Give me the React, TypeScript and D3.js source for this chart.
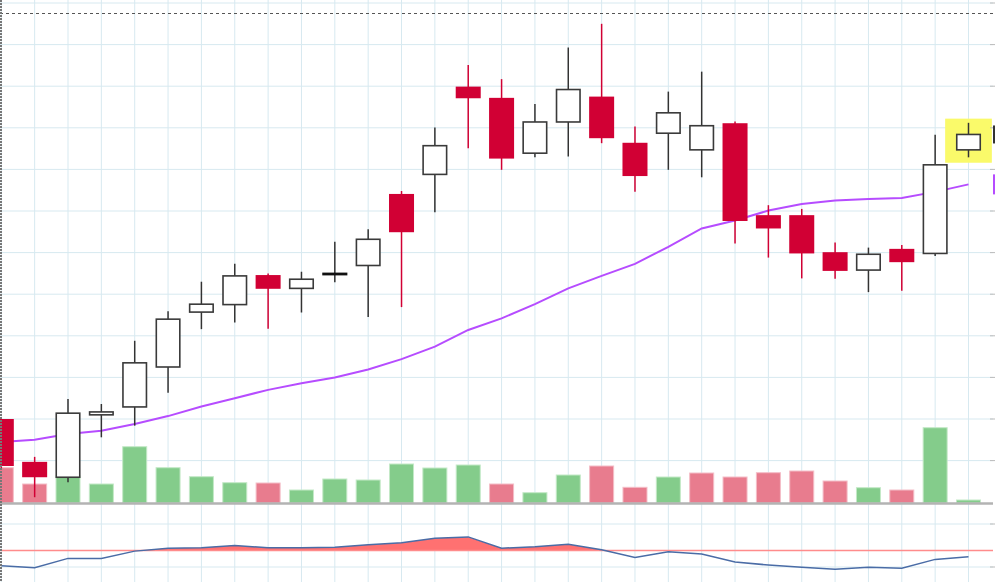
import React, { useEffect, useRef } from 'react';
import * as d3 from 'd3';

// daily candles
const opens = [22.0, 20.97, 20.6, 22.1, 22.29, 23.25, 24.57, 24.75, 25.46, 25.14, 25.5, 25.69, 27.41, 27.88, 29.99, 29.72, 28.39, 29.14, 29.75, 28.64, 28.87, 28.47, 29.11, 26.9, 26.9, 26.01, 25.58, 26.09, 25.98, 28.47];
const highs = [22.0, 21.09, 22.48, 22.36, 23.88, 24.59, 25.3, 25.73, 25.5, 25.54, 26.26, 26.56, 27.48, 29.01, 30.51, 30.17, 29.57, 30.93, 31.5, 29.03, 29.87, 30.35, 29.15, 27.14, 27.05, 26.24, 26.12, 26.18, 28.83, 29.12];
const lows = [20.8, 20.12, 20.48, 21.56, 21.84, 22.63, 24.16, 24.32, 24.17, 24.56, 25.29, 24.45, 24.69, 26.97, 28.51, 27.99, 28.29, 28.31, 28.63, 27.46, 27.99, 27.81, 26.22, 25.88, 25.38, 25.37, 25.05, 25.08, 25.92, 28.29];
const closes = [20.87, 20.6, 22.14, 22.17, 23.35, 24.4, 24.76, 25.44, 25.13, 25.36, 25.5, 26.32, 26.49, 28.57, 29.71, 28.26, 29.14, 29.92, 28.75, 27.84, 29.36, 29.05, 26.76, 26.58, 25.98, 25.56, 25.96, 25.77, 28.11, 28.84];
const volumes = [706, 380, 540, 380, 1126, 706, 526, 406, 400, 260, 480, 460, 780, 700, 760, 380, 206, 560, 740, 314, 520, 600, 520, 606, 640, 440, 306, 260, 1506, 60];
const movingAvg = [21.45, 21.5, 21.64, 21.72, 21.88, 22.07, 22.3, 22.5, 22.7, 22.86, 23.0, 23.19, 23.44, 23.74, 24.14, 24.42, 24.76, 25.14, 25.44, 25.73, 26.14, 26.58, 26.77, 27.01, 27.17, 27.25, 27.29, 27.31, 27.46, 27.64];
const oscillator = [-0.46, -0.52, -0.24, -0.24, -0.02, 0.07, 0.08, 0.15, 0.08, 0.08, 0.1, 0.17, 0.23, 0.37, 0.41, 0.07, 0.11, 0.19, 0.02, -0.21, -0.04, -0.11, -0.35, -0.44, -0.51, -0.57, -0.51, -0.54, -0.27, -0.19];

const priceTicks = [21, 22, 23, 24, 25, 26, 27, 28, 29, 30, 31, 32];
const oscTicks = [-0.5, 0.8];
const highlighted = 29;

const W = 995;
const H = 582;
const plotRight = 993;

const App = () => {
  const ref = useRef<SVGSVGElement>(null);

  useEffect(() => {
    const svg = d3.select(ref.current);
    svg.selectAll('*').remove();
    const n = closes.length;

    // scales
    const x = d3.scaleLinear().domain([0, n - 1]).range([1.3, 968.5]);
    const step = x(1) - x(0);
    const bw = step * 0.75;
    const y = d3.scaleLinear().domain([20, 32]).range([502.2, 3]);
    const yVol = d3.scaleLinear().domain([0, 2000]).range([503, 403]);
    const yOsc = d3.scaleLinear().domain([-0.5, 0.8]).range([567, 524]);
    const zero = yOsc(0);

    const defs = svg.append('defs');
    defs.append('clipPath').attr('id', 'plot')
      .append('rect').attr('x', 0).attr('y', 0).attr('width', plotRight).attr('height', H);
    defs.append('clipPath').attr('id', 'above')
      .append('rect').attr('x', 0).attr('y', 0).attr('width', plotRight).attr('height', zero);

    const g = svg.append('g').attr('clip-path', 'url(#plot)');
    const gridColor = '#d7e9f0';

    // grid
    g.append('g').selectAll('line').data(d3.range(n + 1)).join('line')
      .attr('x1', d => x(d)).attr('x2', d => x(d))
      .attr('y1', 0).attr('y2', H)
      .attr('stroke', gridColor);
    g.append('g').selectAll('line').data(priceTicks).join('line')
      .attr('x1', 0).attr('x2', plotRight)
      .attr('y1', d => y(d)).attr('y2', d => y(d))
      .attr('stroke', gridColor);
    g.append('g').selectAll('line').data(oscTicks).join('line')
      .attr('x1', 0).attr('x2', plotRight)
      .attr('y1', d => yOsc(d)).attr('y2', d => yOsc(d))
      .attr('stroke', gridColor);

    // right axis ticks
    svg.append('g').selectAll('line').data([...priceTicks.map(d => y(d)), ...oscTicks.map(d => yOsc(d))]).join('line')
      .attr('x1', plotRight - 3).attr('x2', W)
      .attr('y1', d => d).attr('y2', d => d)
      .attr('stroke', '#bbb');

    // highlight behind last candle
    g.append('rect')
      .attr('x', x(highlighted - 0.7))
      .attr('width', x(highlighted + 0.7) - x(highlighted - 0.7))
      .attr('y', y(highs[highlighted] + 0.1))
      .attr('height', y(lows[highlighted] - 0.13) - y(highs[highlighted] + 0.1))
      .attr('fill', '#fafa6a');

    // volume
    const volUp = (i: number) => (i === 0 ? closes[0] >= opens[0] : closes[i] >= closes[i - 1]);
    g.append('g').selectAll('rect').data(volumes).join('rect')
      .attr('x', (d, i) => x(i) - bw / 2 + 0.5)
      .attr('width', bw - 1)
      .attr('y', d => yVol(d))
      .attr('height', d => yVol(0) - yVol(d))
      .attr('fill', (d, i) => (volUp(i) ? '#84cc8b' : '#e87c8e'))
      .attr('stroke', (d, i) => (volUp(i) ? '#c4e9c7' : '#f4bdc7'))
      .attr('stroke-width', 1);

    g.append('line')
      .attr('x1', 0).attr('x2', plotRight)
      .attr('y1', yVol(0) + 0.5).attr('y2', yVol(0) + 0.5)
      .attr('stroke', '#b3b3b3').attr('stroke-width', 2.5);

    // moving average
    g.append('path')
      .datum(movingAvg)
      .attr('d', d3.line<number>().x((d, i) => x(i)).y(d => y(d)))
      .attr('fill', 'none')
      .attr('stroke', '#b64cff')
      .attr('stroke-width', 2);

    // candles
    const idx = d3.range(n);
    const isUp = (i: number) => closes[i] >= opens[i];
    const candleColor = (i: number) => (isUp(i) ? '#333' : '#d10034');
    const candles = g.append('g').selectAll('g').data(idx).join('g');
    candles.append('line')
      .attr('x1', i => x(i)).attr('x2', i => x(i))
      .attr('y1', i => y(highs[i])).attr('y2', i => y(lows[i]))
      .attr('stroke', i => candleColor(i))
      .attr('stroke-width', 1.5);
    candles.append('rect')
      .attr('x', i => (isUp(i) ? x(i) - bw / 2 + 0.75 : x(i) - bw / 2))
      .attr('width', i => (isUp(i) ? bw - 1.5 : bw))
      .attr('y', i => y(Math.max(opens[i], closes[i])))
      .attr('height', i => Math.max(1.2, Math.abs(y(opens[i]) - y(closes[i]))))
      .attr('fill', i => (isUp(i) ? (opens[i] === closes[i] ? '#111' : '#fff') : '#d10034'))
      .attr('stroke', i => (isUp(i) ? (opens[i] === closes[i] ? '#111' : '#3a3a3a') : 'none'))
      .attr('stroke-width', 1.6);

    // oscillator panel
    g.append('path')
      .datum(oscillator)
      .attr('clip-path', 'url(#above)')
      .attr('d', d3.area<number>().x((d, i) => x(i)).y0(zero).y1(d => yOsc(d)))
      .attr('fill', '#ff7171');
    g.append('line')
      .attr('x1', 0).attr('x2', plotRight)
      .attr('y1', zero).attr('y2', zero)
      .attr('stroke', '#ff8c8c').attr('stroke-width', 1.5);
    g.append('path')
      .datum(oscillator)
      .attr('d', d3.line<number>().x((d, i) => x(i)).y(d => yOsc(d)))
      .attr('fill', 'none')
      .attr('stroke', '#4a6ca6')
      .attr('stroke-width', 1.5);

    // last value tags on the right axis
    svg.append('rect')
      .attr('x', plotRight).attr('width', 30)
      .attr('y', y(closes[n - 1]) - 9).attr('height', 18)
      .attr('fill', '#333');
    svg.append('rect')
      .attr('x', plotRight).attr('width', 30)
      .attr('y', y(movingAvg[n - 1]) - 10).attr('height', 20)
      .attr('fill', '#b64cff');

    // pane borders
    svg.append('line')
      .attr('x1', 0).attr('x2', plotRight)
      .attr('y1', 13.5).attr('y2', 13.5)
      .attr('stroke', '#555').attr('stroke-dasharray', '3,3');
    svg.append('line')
      .attr('x1', 1).attr('x2', 1)
      .attr('y1', 0).attr('y2', H)
      .attr('stroke', '#777').attr('stroke-width', 2)
      .attr('stroke-dasharray', '2,1');
  }, []);

  return (
    <svg
      ref={ref}
      width={W}
      height={H}
      style={{ position: 'absolute', left: 0, top: 0, background: '#fff' }}
    />
  );
};

export default App;
